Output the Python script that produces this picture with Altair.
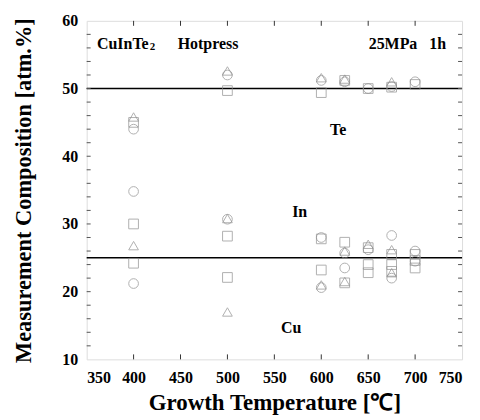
import altair as alt
import pandas as pd

# ---- data ----
circle_T = [400, 500, 600, 625, 650, 675, 700, 400, 500, 600, 625, 650, 675, 700, 400, 600, 625, 675, 700]
circle_V = [44.0, 52.0, 51.2, 51.0, 50.0, 50.3, 51.0, 34.8, 30.7, 28.0, 25.7, 26.2, 28.3, 26.0, 21.2, 20.6, 23.5, 22.0, 24.5]

square_T = [400, 500, 600, 625, 650, 675, 700, 400, 500, 600, 625, 650, 675, 700, 400, 500, 600, 625, 650, 650, 675, 675, 700, 700]
square_V = [45.0, 49.7, 49.4, 51.2, 50.0, 50.2, 50.6, 30.0, 28.2, 27.8, 27.3, 26.5, 25.5, 25.5, 24.2, 22.1, 23.2, 21.3, 24.0, 22.8, 24.0, 23.0, 23.5, 24.6]

triangle_T = [400, 500, 600, 625, 675, 400, 500, 625, 650, 675, 500, 600, 625, 675]
triangle_V = [45.8, 52.6, 51.6, 51.4, 51.0, 26.8, 30.8, 26.0, 27.0, 26.2, 17.0, 21.0, 21.5, 22.8]

ref_levels = [50, 25]

ann_text = ["CuInTe", "Hotpress", "25MPa\u00a0\u00a0\u00a01h", "Te", "In", "Cu"]
ann_x = [361, 447, 733, 618, 577, 568]
ann_y = [56.6, 56.6, 56.6, 43.8, 31.8, 14.7]
ann_align = ["left", "left", "right", "center", "center", "center"]

x_ticks = [350, 400, 450, 500, 550, 600, 650, 700, 750]
y_ticks = [10, 20, 30, 40, 50, 60]
y_minor = [v for v in range(12, 60, 2)]

rows = []
for t, v in zip(circle_T, circle_V):
    rows.append({"T": t, "V": v, "shape": "circle"})
for t, v in zip(square_T, square_V):
    rows.append({"T": t, "V": v, "shape": "square"})
for t, v in zip(triangle_T, triangle_V):
    rows.append({"T": t, "V": v, "shape": "triangle-up"})
pts = pd.DataFrame(rows)

W, H = 377, 340
FONT = "Liberation Serif"

xs = alt.Scale(domain=[350, 750], nice=False)
ys = alt.Scale(domain=[10, 60], nice=False)

points = alt.Chart(pts).mark_point(filled=False, size=95, strokeWidth=1, color="#8f8f8f").encode(
    x=alt.X("T:Q", scale=xs,
            axis=alt.Axis(values=x_ticks, title="Growth Temperature [℃]", grid=False, ticks=False,
                          domain=False, labelFont=FONT, labelFontSize=16, labelFontWeight="bold",
                          labelColor="black", labelPadding=10, titleFont=FONT, titleFontSize=23,
                          titleFontWeight="bold", titleColor="black", titlePadding=6)),
    y=alt.Y("V:Q", scale=ys,
            axis=alt.Axis(values=y_ticks, title="Measurement Composition [atm.%]", grid=False, ticks=False,
                          domain=False, labelFont=FONT, labelFontSize=16, labelFontWeight="bold",
                          labelColor="black", labelPadding=9, titleFont=FONT, titleFontSize=22.5,
                          titleFontWeight="bold", titleColor="black", titlePadding=26)),
    shape=alt.Shape("shape:N", scale=None, legend=None),
)

refs = alt.Chart(pd.DataFrame({"y": ref_levels})).mark_rule(color="black", strokeWidth=1.5).encode(
    y=alt.Y("y:Q", scale=ys)
)

# inward ticks
xt = pd.DataFrame({"x": x_ticks[1:-1]})
tick_bottom = alt.Chart(xt).mark_rule(color="#333", strokeWidth=1).encode(
    x=alt.X("x:Q", scale=xs), y=alt.value(H), y2=alt.value(H - 5))
tick_top = alt.Chart(xt).mark_rule(color="#333", strokeWidth=1).encode(
    x=alt.X("x:Q", scale=xs), y=alt.value(0), y2=alt.value(5))
ym = pd.DataFrame({"y": y_minor})
tick_left = alt.Chart(ym).mark_rule(color="#555", strokeWidth=1).encode(
    y=alt.Y("y:Q", scale=ys), x=alt.value(0), x2=alt.value(4))
tick_right = alt.Chart(ym).mark_rule(color="#555", strokeWidth=1).encode(
    y=alt.Y("y:Q", scale=ys), x=alt.value(W), x2=alt.value(W - 4))

ann = pd.DataFrame({"text": ann_text, "x": ann_x, "y": ann_y, "align": ann_align})
texts = []
for al in ["left", "right", "center"]:
    texts.append(alt.Chart(ann[ann["align"] == al]).mark_text(
        font=FONT, fontSize=16, fontWeight="bold", color="black", align=al, baseline="middle").encode(
        x=alt.X("x:Q", scale=xs), y=alt.Y("y:Q", scale=ys), text="text:N"))

sub = alt.Chart(pd.DataFrame({"text": ["2"], "x": [ann_x[0]], "y": [ann_y[0]]})).mark_text(
    font=FONT, fontSize=11, fontWeight="bold", color="black", align="left", baseline="middle", dx=53, dy=3
).encode(x=alt.X("x:Q", scale=xs), y=alt.Y("y:Q", scale=ys), text="text:N")

chart = alt.layer(refs, tick_bottom, tick_top, tick_left, tick_right, points, *texts, sub).properties(
    width=W, height=H,
    autosize=alt.AutoSizeParams(type="none"),
    padding={"left": 79, "top": 12, "right": 10, "bottom": 60},
).configure_view(stroke="#666", strokeWidth=1, strokeDash=[2, 1]).configure(background="white")

chart.save("out.html", embed_options={"renderer": "svg", "actions": False})
